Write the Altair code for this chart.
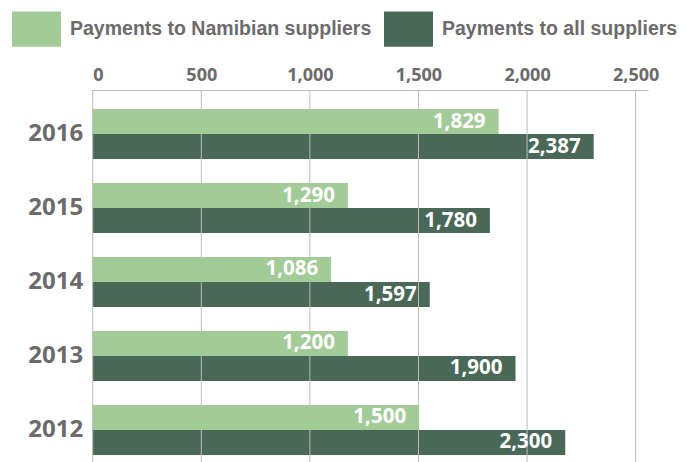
import altair as alt
import pandas as pd

years = ["2016", "2015", "2014", "2013", "2012"]
namibian_bar = [1869, 1175, 1098, 1175, 1503]
all_bar = [2307, 1829, 1552, 1947, 2176]
namibian_labels = ["1,829", "1,290", "1,086", "1,200", "1,500"]
all_labels = ["2,387", "1,780", "1,597", "1,900", "2,300"]
series_names = ["Payments to Namibian suppliers", "Payments to all suppliers"]
colors = ["#a3cb98", "#4a6858"]
grid_ticks = [0, 500, 1000, 1500, 2000, 2500]
x_max = 2557

rows = []
for i, y in enumerate(years):
    rows.append({"year": y, "series": series_names[0], "value": namibian_bar[i], "label": namibian_labels[i]})
    rows.append({"year": y, "series": series_names[1], "value": all_bar[i], "label": all_labels[i]})
df = pd.DataFrame(rows)
ticks_df = pd.DataFrame({"value": grid_ticks})

NUM_FONT = "Open Sans"
TXT_FONT = "Liberation Sans"
GRAY = "#6b6b6b"

xscale = alt.Scale(domain=[0, x_max], nice=False, zero=True)
x_axis = alt.Axis(
    orient="top", values=grid_ticks, format=",.0f", title=None, grid=False,
    ticks=False, tickSize=0, domainColor="#bbbbbb", domainWidth=1,
    labelFont=NUM_FONT, labelFontSize=18, labelFontWeight="bold",
    labelColor=GRAY, labelPadding=6, labelFlush=True,
)
x_enc = alt.X("value:Q", scale=xscale, axis=x_axis)
y_enc = alt.Y(
    "year:N",
    sort=years,
    scale=alt.Scale(paddingInner=0.324, paddingOuter=0.257),
    axis=alt.Axis(
        title=None, domain=False, ticks=False, labelFont=NUM_FONT,
        labelFontSize=24, labelFontWeight="bold", labelColor=GRAY, labelPadding=10,
    ),
)
yoff_enc = alt.YOffset(
    "series:N", sort=series_names,
    scale=alt.Scale(domain=series_names, paddingInner=0, paddingOuter=0),
)
color_enc = alt.Color(
    "series:N",
    scale=alt.Scale(domain=series_names, range=colors),
    legend=alt.Legend(
        title=None, orient="none", legendX=-80.7, legendY=-85.9, direction="horizontal",
        symbolType="M-1,-0.72L1,-0.72L1,0.72L-1,0.72Z", symbolSize=2401,
        symbolStrokeWidth=0, symbolOpacity=1, labelFont=TXT_FONT, labelFontSize=19.5,
        labelFontWeight="bold", labelColor=GRAY, labelOffset=9, columnPadding=12,
        labelLimit=500, padding=0,
    ),
)

base = alt.Chart(df)

dark = base.transform_filter(alt.datum.series == series_names[1]).mark_bar().encode(
    x=x_enc, y=y_enc, yOffset=yoff_enc, color=color_enc
)
light = base.transform_filter(alt.datum.series == series_names[0]).mark_bar().encode(
    x=x_enc, y=y_enc, yOffset=yoff_enc, color=color_enc
)
grid = alt.Chart(ticks_df).mark_rule(color="#bbbbbb", strokeWidth=1).encode(
    x=x_enc
)
labels = base.mark_text(
    align="right", baseline="middle", dx=-13, font=NUM_FONT, fontWeight="bold",
    fontSize=20.5, color="white",
).encode(x=x_enc, y=y_enc, yOffset=yoff_enc, text="label:N")

chart = alt.layer(dark, grid, light, labels).properties(
    width=555.3,
    height=384,
    autosize=alt.AutoSizeParams(type="none"),
    padding={"left": 84.7, "top": 82, "right": 41, "bottom": 0},
    background="white",
).configure_view(stroke=None)

chart.save("out.html", embed_options={"renderer": "svg", "actions": False})
